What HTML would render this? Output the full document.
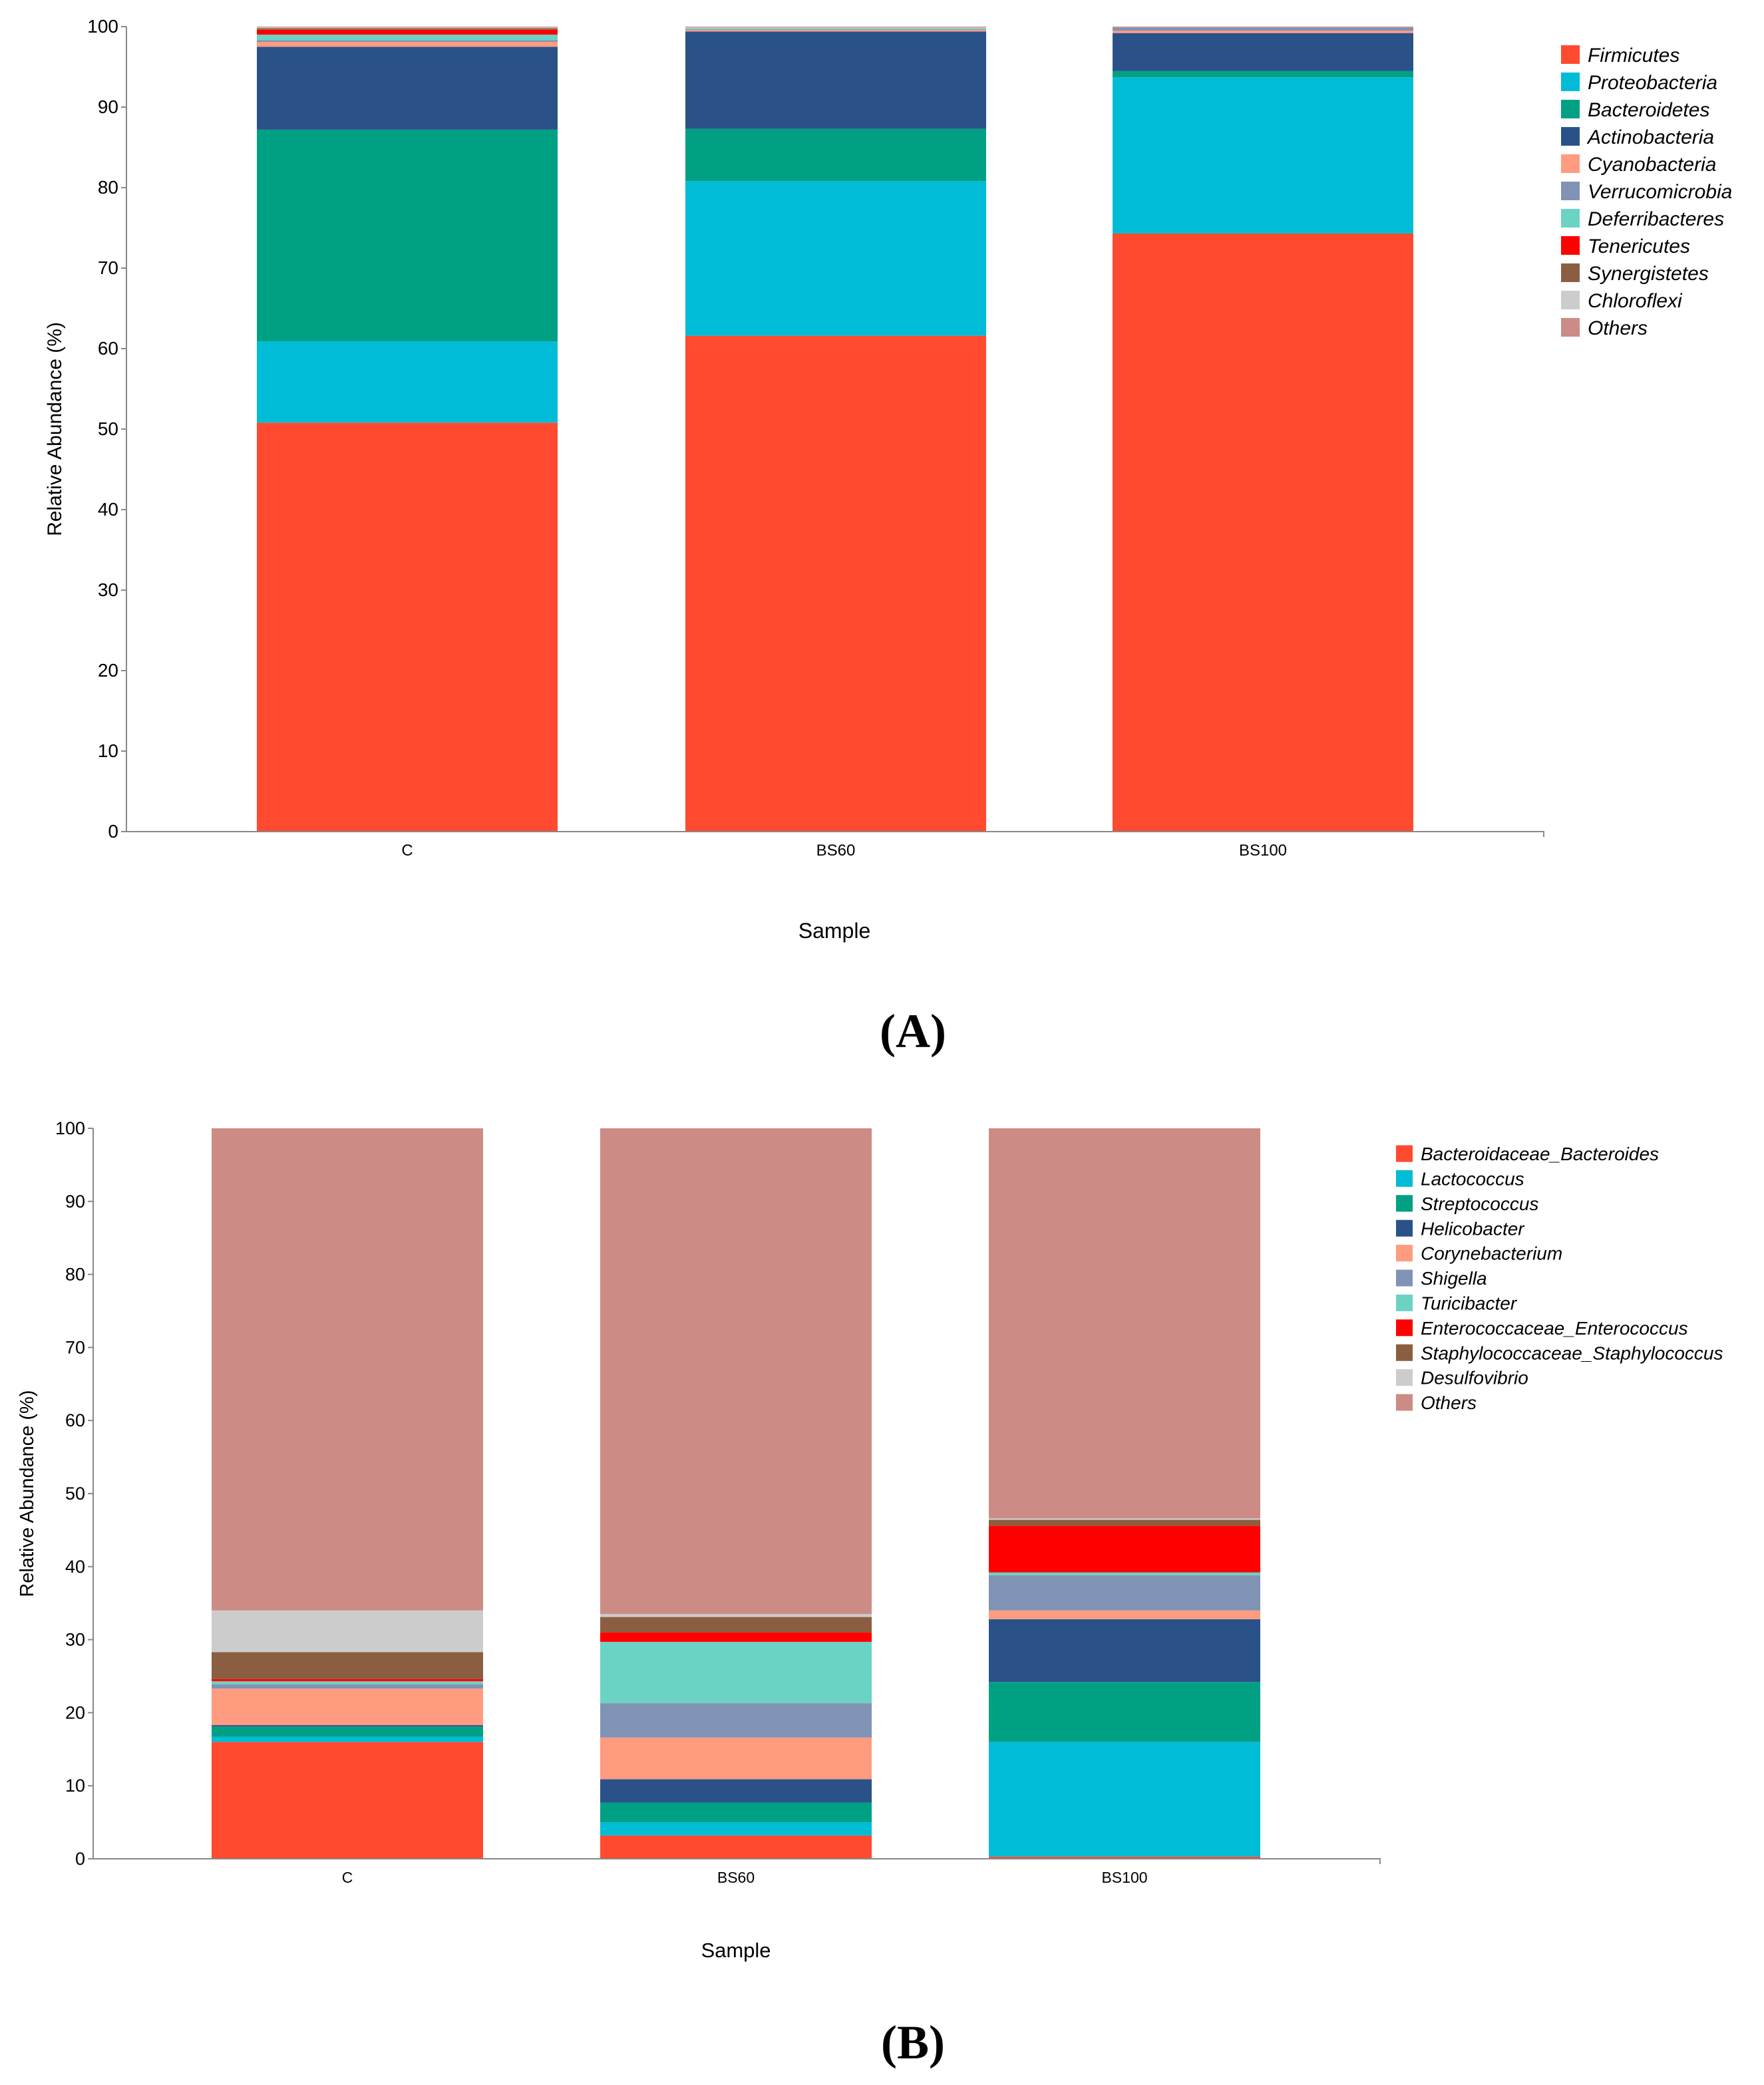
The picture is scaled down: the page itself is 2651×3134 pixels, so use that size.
<!DOCTYPE html>
<html><head><meta charset="utf-8"><style>
html,body{margin:0;padding:0;background:#fff}
svg{display:block}
text{font-family:"Liberation Sans",sans-serif}
</style></head><body>
<svg id="s" width="2651" height="3134" viewBox="0 0 2651 3134" xmlns="http://www.w3.org/2000/svg"></svg>
<script>
const colors=["#FF4A30","#00BCD6","#00A085","#2A5289","#FF9B7F","#8093B5","#6BD3C3","#FF0000","#8B5E41","#CCCCCC","#CC8C85"];
const samples=["C","BS60","BS100"];
const yTicks=[0,10,20,30,40,50,60,70,80,90,100];
const phylaNames=["Firmicutes","Proteobacteria","Bacteroidetes","Actinobacteria","Cyanobacteria","Verrucomicrobia","Deferribacteres","Tenericutes","Synergistetes","Chloroflexi","Others"];
const phylaC=[50.8,10.1,26.3,10.3,0.6,0.2,0.7,0.6,0.2,0.1,0.1];
const phylaBS60=[61.6,19.2,6.5,12.1,0.2,0.1,0.1,0.0,0.0,0.1,0.1];
const phylaBS100=[74.3,19.4,0.8,4.7,0.3,0.4,0.0,0.0,0.0,0.0,0.1];
const genusNames=["Bacteroidaceae_Bacteroides","Lactococcus","Streptococcus","Helicobacter","Corynebacterium","Shigella","Turicibacter","Enterococcaceae_Enterococcus","Staphylococcaceae_Staphylococcus","Desulfovibrio","Others"];
const genusC=[16.0,0.7,1.4,0.2,5.0,0.6,0.4,0.3,3.7,5.7,66.0];
const genusBS60=[3.2,1.8,2.7,3.2,5.7,4.7,8.4,1.3,2.1,0.4,66.5];
const genusBS100=[0.3,15.7,8.2,8.6,1.2,4.8,0.4,6.4,0.8,0.2,53.4];

const svg=document.getElementById('s');
const NS="http://www.w3.org/2000/svg";
function el(tag,attrs,parent,txt){const e=document.createElementNS(NS,tag);for(const k in attrs)e.setAttribute(k,attrs[k]);if(txt!==undefined)e.textContent=txt;(parent||svg).appendChild(e);return e;}

function chart(cfg){
  const g=el('g',{});
  
  
  const y=v=>cfg.y0+(cfg.y100-cfg.y0)*v/100;
  cfg.series.forEach((vals,i)=>{
    let acc=0;
    const bx=cfg.barX[i];
    vals.forEach((v,j)=>{
      if(v<=0){return;}
      const r=el('rect',{x:bx,y:y(acc+v),width:cfg.barW,height:y(acc)-y(acc+v),fill:colors[j]},g);
      
      
      acc+=v;
    });
  });
  const ax=el('path',{d:`M${cfg.xL} ${cfg.y100} V${cfg.y0} H${cfg.xR} v8`,stroke:'#888',fill:'none','stroke-width':2},g);
  
  
  yTicks.forEach(t=>{
    el('line',{x1:cfg.xL-8,x2:cfg.xL,y1:y(t),y2:y(t),stroke:'#888','stroke-width':2},g);
    const tx=el('text',{x:cfg.xL-12,y:y(t)+9,'text-anchor':'end','font-size':cfg.fs},g,String(t));
    
    
  });
  samples.forEach((s,i)=>{
    const tx=el('text',{x:cfg.barX[i]+cfg.barW/2,y:cfg.y0+36,'text-anchor':'middle','font-size':cfg.fs-4},g,s);
    
    
  });
  const yt=el('text',{transform:`translate(${cfg.ytx},${(cfg.y0+cfg.y100)/2}) rotate(-90)`,'text-anchor':'middle','font-size':cfg.fs+2},g,'Relative Abundance (%)');
  
  
  const xt=el('text',{x:cfg.sx,y:cfg.sy,'text-anchor':'middle','font-size':cfg.fs+4},g,'Sample');
  
  
  cfg.names.forEach((n,j)=>{
    const cy=cfg.ly+j*cfg.ls;
    const lg=el('g',{},g);
    
    
    el('rect',{x:cfg.lx,y:cy-cfg.lsq/2,width:cfg.lsq,height:cfg.lsq,fill:colors[j]},lg);
    el('text',{x:cfg.lx+cfg.lsq+12,y:cy+cfg.lfs*0.36,'font-size':cfg.lfs,'font-style':'italic'},lg,n);
  });
  const p=el('text',{x:1372,y:cfg.py,'text-anchor':'middle','font-size':72,'font-weight':'bold',style:'font-family:"Liberation Serif",serif'},g,cfg.panel);
  
  
}
chart({name:'chart-a-phylum',names:phylaNames,series:[phylaC,phylaBS60,phylaBS100],y0:1250,y100:40,xL:190,xR:2320,barX:[386,1030,1672],barW:452,fs:28,ytx:92,sx:1254,sy:1410,lx:2346,ly:82,ls:41,lsq:28,lfs:30,py:1574,panel:'(A)'});
chart({name:'chart-b-genus',names:genusNames,series:[genusC,genusBS60,genusBS100],y0:2794,y100:1696,xL:140,xR:2074,barX:[318,902,1486],barW:408,fs:27,ytx:50,sx:1106,sy:2942,lx:2098,ly:1734,ls:37.4,lsq:25,lfs:28,py:3094,panel:'(B)'});
</script>
</body></html>
